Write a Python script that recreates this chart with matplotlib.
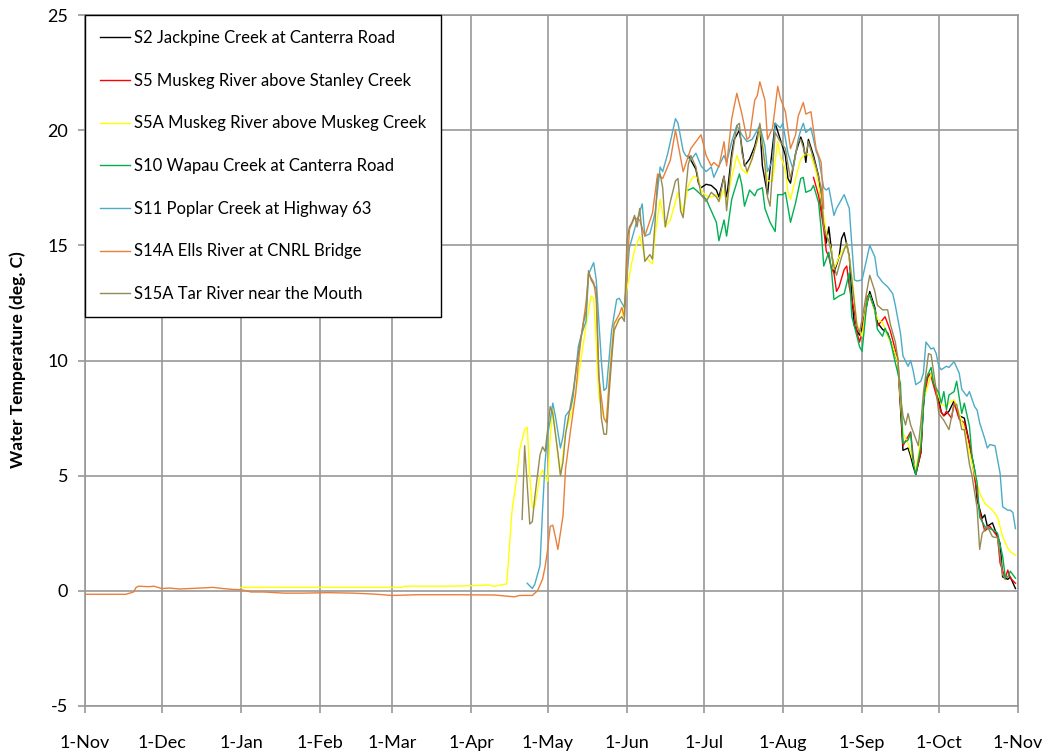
import matplotlib
matplotlib.use("Agg")
import matplotlib.pyplot as plt
import pandas as pd

plt.rcParams['font.family'] = ['Lato', 'DejaVu Sans']
plt.rcParams['axes.unicode_minus'] = False

# season runs 1-Nov to 1-Nov; days are counted from the first 1-Nov
season_start = pd.Timestamp('2010-11-01')

labels = ['S2 Jackpine Creek at Canterra Road',
          'S5 Muskeg River above Stanley Creek',
          'S5A Muskeg River above Muskeg Creek',
          'S10 Wapau Creek at Canterra Road',
          'S11 Poplar Creek at Highway 63',
          'S14A Ells River at CNRL Bridge',
          'S15A Tar River near the Mouth']
colors = ['#000000', '#FF0000', '#FFFF00', '#00B050', '#4BACC6', '#E8803C', '#948A54']

s2_day = [236, 238, 239, 240, 241, 243, 245, 247, 248, 250, 251, 253, 254, 256, 258,
          259, 260, 262, 264, 265, 267, 268, 270, 272, 274, 275, 276, 278, 280, 281,
          282, 283, 285, 287, 288, 289, 290, 291, 292, 293, 295, 296, 297, 299, 300,
          301, 303, 304, 306, 307, 309, 310, 312, 314, 316, 318, 319, 320, 322, 323,
          324, 325, 327, 328, 329, 331, 332, 334, 335, 336, 338, 340, 342, 344, 346,
          348, 349, 351, 352, 353, 355, 356, 358, 359, 361, 362, 364]
s2_temp = [18.9, 18.5, 18.3, 17.7, 17.5, 17.65, 17.6, 17.4, 17.1, 18.0, 17.0, 19.0, 19.6, 20.0, 18.45,
           18.6, 18.75, 19.3, 20.2, 18.45, 17.2, 18.3, 20.3, 19.6, 18.9, 17.9, 17.7, 19.0, 19.7, 19.4,
           18.6, 19.6, 18.9, 18.0, 16.85, 16.0, 15.1, 15.8, 14.8, 13.8, 14.5, 15.3, 15.55, 14.5, 12.8,
           11.5, 11.1, 11.4, 12.5, 13.0, 12.3, 11.65, 11.35, 11.2, 10.55, 9.9, 8.0, 6.1, 6.2, 5.85,
           5.4, 5.05, 6.0, 8.0, 9.2, 9.45, 9.0, 8.3, 7.75, 7.6, 7.8, 8.25, 7.6, 7.5, 6.4,
           5.25, 3.95, 3.15, 3.3, 2.8, 2.95, 2.65, 2.05, 0.6, 0.5, 0.6, 0.1]

s5_day = [285, 287, 289, 290, 291, 292, 293, 294, 295, 297, 298, 299, 301, 302, 303,
          304, 306, 307, 309, 310, 313, 315, 318, 320, 321, 323, 324, 325, 327, 328,
          330, 331, 333, 335, 336, 337, 339, 340, 342, 344, 346, 348, 350, 352, 354,
          356, 357, 358, 360, 361, 362, 364]
s5_temp = [17.95, 17.15, 15.7, 14.75, 14.5, 14.0, 13.8, 13.0, 13.2, 13.95, 14.1, 13.2, 12.1, 11.2, 10.8,
           11.2, 12.8, 12.8, 12.2, 11.5, 11.9, 11.3, 10.05, 6.3, 6.5, 6.9, 5.8, 5.05, 6.0, 8.2,
           9.45, 9.3, 8.5, 7.75, 7.6, 7.8, 7.5, 8.15, 7.45, 7.3, 6.4, 4.95, 3.45, 2.6, 2.8,
           2.5, 2.35, 1.2, 0.55, 0.9, 0.55, 0.33]

s5a_day = [61, 90, 124, 125, 140, 150, 158, 160, 165, 167, 169, 170, 172, 173, 174,
           175, 176, 178, 179, 181, 182, 183, 185, 186, 188, 191, 193, 195, 196, 198,
           199, 200, 201, 203, 204, 205, 206, 207, 210, 213, 214, 215, 217, 219, 221,
           222, 223, 225, 227, 229, 232, 234, 236, 238, 240, 241, 243, 245, 247, 248,
           250, 251, 253, 255, 257, 259, 261, 263, 264, 266, 267, 269, 271, 272, 274,
           275, 276, 278, 280, 282, 284, 286, 288, 290, 292, 293, 295, 298, 300, 302,
           304, 306, 307, 310, 312, 314, 316, 318, 320, 322, 323, 325, 327, 328, 330,
           331, 333, 335, 337, 338, 340, 342, 344, 346, 348, 350, 352, 355, 357, 359,
           361, 362, 364]
s5a_temp = [0.15, 0.15, 0.15, 0.2, 0.2, 0.22, 0.25, 0.2, 0.3, 3.4, 5.0, 6.1, 7.0, 7.1, 5.0,
            3.6, 3.7, 5.0, 5.25, 4.75, 6.7, 7.9, 5.85, 5.0, 6.85, 8.0, 9.3, 10.75, 11.5, 12.8,
            12.7, 10.75, 8.45, 7.5, 7.4, 9.0, 10.5, 11.6, 11.9, 13.7, 14.3, 14.8, 15.4, 14.5, 14.3,
            14.2, 15.4, 17.0, 15.8, 16.1, 17.3, 16.4, 17.6, 18.0, 17.9, 17.4, 17.15, 17.1, 17.2, 16.9,
            17.4, 16.9, 17.95, 18.9, 18.3, 18.1, 18.8, 19.5, 20.2, 18.6, 17.8, 17.8, 19.5, 18.9, 18.3,
            17.3, 17.0, 17.9, 18.75, 19.0, 18.9, 18.2, 17.0, 15.55, 14.8, 13.95, 14.5, 15.1, 13.7, 11.6,
            11.05, 12.65, 12.85, 11.8, 11.65, 11.05, 10.6, 9.9, 6.85, 6.4, 6.0, 5.25, 6.55, 8.3, 9.0,
            9.45, 8.75, 8.1, 8.0, 8.15, 8.3, 7.7, 7.0, 6.0, 5.1, 4.25, 3.8, 3.5, 3.2, 2.35,
            1.85, 1.7, 1.55]

s10_day = [236, 238, 239, 240, 243, 245, 247, 248, 250, 251, 253, 256, 257, 258, 260,
           262, 263, 265, 266, 268, 270, 271, 273, 274, 276, 278, 280, 281, 282, 284,
           285, 287, 288, 289, 291, 292, 293, 295, 297, 299, 300, 302, 303, 304, 306,
           307, 309, 310, 312, 313, 315, 317, 319, 320, 322, 323, 324, 325, 327, 328,
           329, 331, 332, 334, 335, 336, 337, 338, 340, 341, 343, 344, 346, 347, 349,
           350, 352, 353, 354, 356, 357, 359, 360, 361, 362, 364]
s10_temp = [17.4, 17.5, 17.4, 17.3, 17.0, 16.5, 16.0, 15.2, 16.1, 15.4, 17.0, 18.1, 17.6, 16.7, 17.4,
            17.15, 17.4, 17.5, 16.6, 16.0, 15.6, 17.2, 17.2, 17.3, 16.0, 16.85, 17.9, 17.95, 17.3, 17.4,
            17.6, 16.85, 15.7, 14.1, 14.7, 13.95, 12.65, 12.8, 12.9, 13.8, 11.9, 11.05, 10.6, 10.4, 12.65,
            12.85, 12.2, 11.35, 11.05, 11.4, 10.9, 9.9, 9.0, 6.4, 6.55, 6.85, 5.55, 5.05, 6.3, 8.0,
            9.2, 9.7, 9.0, 8.6, 8.15, 8.65, 7.85, 8.5, 8.65, 9.1, 7.7, 8.15, 7.15, 5.85, 4.7,
            3.2, 2.8, 2.7, 2.7, 2.6, 2.5, 1.5, 0.6, 0.6, 0.85, 0.55]

s11_day = [173, 175, 176, 178, 179, 180, 181, 182, 183, 184, 186, 187, 188, 190, 191,
           193, 194, 196, 197, 199, 200, 202, 203, 204, 206, 208, 209, 211, 213, 214,
           216, 218, 219, 221, 223, 225, 226, 228, 231, 232, 234, 235, 237, 239, 241,
           243, 245, 246, 248, 250, 251, 253, 255, 257, 259, 261, 262, 264, 266, 267,
           269, 270, 272, 273, 275, 277, 279, 280, 281, 282, 284, 286, 287, 289, 290,
           291, 293, 294, 296, 297, 299, 300, 301, 302, 304, 306, 307, 309, 310, 312,
           314, 316, 317, 319, 320, 322, 323, 324, 325, 327, 328, 329, 331, 332, 333,
           334, 335, 337, 338, 340, 342, 343, 345, 346, 348, 349, 350, 352, 353, 354,
           356, 357, 358, 359, 361, 362, 363, 364]
s11_temp = [0.33, 0.1, 0.3, 1.1, 3.5, 5.6, 6.8, 7.4, 8.15, 7.6, 6.2, 6.7, 7.6, 7.9, 8.45,
            10.6, 11.05, 11.7, 13.75, 14.25, 13.5, 10.0, 8.7, 8.8, 11.3, 12.65, 12.7, 12.3, 14.9, 15.3,
            16.1, 16.8, 15.4, 15.5, 16.4, 18.4, 18.2, 19.0, 20.5, 20.3, 19.1, 18.9, 18.7, 19.0, 18.45,
            18.2, 18.4, 17.95, 18.45, 18.9, 18.6, 19.5, 20.2, 19.8, 19.5, 19.6, 19.8, 20.2, 19.3, 18.2,
            18.7, 20.3, 20.1, 20.3, 19.0, 18.3, 19.6, 20.0, 20.3, 19.9, 20.1, 19.1, 18.8, 17.5, 17.4,
            17.5, 16.3, 16.6, 17.0, 17.2, 16.6, 15.0, 13.5, 13.45, 13.5, 14.5, 15.0, 14.5, 13.7, 13.4,
            13.2, 12.9, 12.4, 11.2, 10.2, 9.75, 10.0, 9.55, 8.95, 9.1, 9.45, 10.8, 10.5, 10.55, 10.3,
            9.75, 9.6, 9.75, 9.7, 9.95, 9.45, 8.75, 8.45, 8.65, 8.0, 7.85, 7.3, 6.6, 6.2, 6.35,
            6.3, 5.7, 5.1, 3.65, 3.5, 3.5, 3.4, 2.7]

s14a_day = [0, 16, 19, 20, 21, 25, 27, 30, 33, 37, 41, 45, 50, 54, 58,
            61, 65, 70, 78, 85, 95, 105, 113, 120, 130, 145, 160, 168, 170, 175,
            177, 179, 180, 181, 182, 183, 184, 185, 187, 188, 190, 192, 193, 194, 196,
            197, 199, 200, 201, 203, 204, 205, 207, 209, 210, 211, 213, 215, 217, 219,
            222, 224, 226, 229, 231, 234, 237, 239, 241, 243, 245, 246, 248, 250, 251,
            253, 255, 257, 259, 260, 262, 263, 264, 266, 267, 269, 271, 272, 274, 276,
            278, 279, 281, 282, 284, 285, 286, 288, 289]
s14a_temp = [-0.15, -0.15, -0.05, 0.15, 0.2, 0.18, 0.2, 0.1, 0.12, 0.08, 0.1, 0.12, 0.15, 0.1, 0.06,
             0.05, -0.05, -0.05, -0.1, -0.1, -0.08, -0.1, -0.14, -0.2, -0.17, -0.17, -0.18, -0.26, -0.2, -0.2,
             0.0, 0.5, 1.05, 1.8, 2.8, 2.85, 2.35, 1.8, 3.25, 5.3, 7.0, 8.6, 9.9, 10.9, 12.5,
             13.75, 13.4, 12.65, 9.3, 7.5, 7.3, 9.0, 11.6, 12.0, 12.3, 11.9, 15.7, 16.2, 16.1, 15.4,
             16.4, 18.1, 17.9, 18.7, 20.0, 18.2, 19.2, 19.5, 19.8, 18.9, 18.45, 18.6, 18.4, 19.5, 18.45,
             20.5, 21.6, 20.7, 19.6, 19.7, 21.3, 21.5, 22.1, 21.3, 19.6, 20.1, 21.9, 21.4, 20.8, 19.2,
             19.8, 20.6, 21.2, 20.7, 20.8, 20.0, 19.2, 18.6, 16.6]

s15a_day = [171, 172, 174, 175, 176, 178, 179, 180, 181, 182, 183, 185, 186, 187, 188,
            190, 191, 193, 195, 196, 197, 198, 199, 200, 201, 202, 203, 204, 205, 206,
            207, 209, 210, 211, 212, 213, 214, 215, 216, 217, 219, 221, 222, 223, 224,
            225, 226, 227, 229, 231, 232, 233, 234, 236, 237, 239, 241, 243, 245, 247,
            248, 250, 251, 253, 255, 256, 257, 258, 259, 261, 263, 264, 266, 267, 268,
            270, 272, 274, 275, 276, 279, 280, 282, 283, 286, 288, 289, 290, 291, 293,
            294, 296, 298, 299, 301, 302, 303, 304, 306, 307, 309, 310, 312, 314, 315,
            317, 318, 319, 320, 321, 322, 323, 325, 326, 327, 328, 330, 331, 332, 333,
            334, 336, 338, 340, 341, 343, 344, 346, 347, 349, 350, 351, 353, 355, 357,
            359, 360]
s15a_temp = [3.1, 6.3, 2.9, 3.0, 4.1, 5.9, 6.25, 6.05, 7.0, 8.0, 7.7, 6.0, 5.0, 5.6, 6.8,
             8.1, 8.7, 10.3, 11.65, 12.1, 13.9, 13.5, 13.3, 13.1, 9.5, 7.5, 6.8, 6.8, 8.5, 10.0,
             11.3, 11.8, 11.9, 11.7, 15.2, 15.8, 16.0, 16.3, 15.8, 16.6, 14.3, 14.6, 14.4, 16.0, 17.9,
             18.1, 17.5, 15.8, 16.9, 17.8, 17.9, 16.5, 16.2, 18.5, 18.9, 18.4, 17.2, 16.9, 17.3, 17.1,
             16.9, 18.0, 16.5, 18.75, 20.2, 20.3, 19.0, 18.6, 18.2, 18.75, 19.6, 20.3, 18.5, 17.1, 16.7,
             19.9, 19.5, 19.2, 18.5, 17.9, 19.5, 19.6, 18.9, 19.5, 18.4, 17.5, 15.8, 15.4, 15.2, 14.1,
             13.7, 14.5, 15.1, 14.5, 12.5, 11.5, 11.2, 11.8, 13.1, 13.7, 13.0, 12.4, 12.2, 12.2, 11.6,
             10.8, 10.1, 8.5, 7.6, 7.2, 7.7, 7.2, 6.6, 6.3, 7.3, 8.6, 10.3, 10.25, 9.5, 8.7,
             7.7, 7.4, 7.0, 8.1, 8.1, 7.0, 7.0, 5.5, 5.0, 3.6, 1.8, 2.5, 2.8, 2.35, 2.3,
             0.7, 0.5]

all_days = [s2_day, s5_day, s5a_day, s10_day, s11_day, s14a_day, s15a_day]
all_temps = [s2_temp, s5_temp, s5a_temp, s10_temp, s11_temp, s14a_temp, s15a_temp]

grid_col = '#989898'

fig = plt.figure(figsize=(10.52, 7.54), dpi=100)
ax = fig.add_axes([85 / 1052, 48 / 754, 933 / 1052, 691 / 754])

for days, temps, lab, col in zip(all_days, all_temps, labels, colors):
    dates = season_start + pd.to_timedelta(days, unit='D')
    ax.plot(dates, temps, color=col, lw=1.0, label=lab)

season_end = season_start + pd.Timedelta(days=365)
ax.set_xlim(season_start, season_end)
ax.set_ylim(-5, 25)
ax.set_yticks(range(-5, 26, 5))

months = pd.date_range(season_start, season_end, freq='MS')
ax.set_xticks(months)
ax.set_xticklabels(['1-' + m.strftime('%b') for m in months])

ax.grid(True, color=grid_col, lw=1.2)
ax.set_axisbelow(True)
for sp in ax.spines.values():
    sp.set_color(grid_col)
    sp.set_linewidth(1.2)
ax.tick_params(axis='both', direction='out', length=5, width=1.2, color=grid_col, labelsize=13)
ax.tick_params(axis='x', pad=16)
ax.tick_params(axis='y', pad=7)

fig.text(18 / 1052, 1 - 360 / 754, 'Water Temperature (deg. C)', rotation=90,
         ha='center', va='center', fontsize=12.5, fontweight='bold')

leg = ax.legend(loc='upper left', bbox_to_anchor=(0, 1), borderaxespad=0,
                fontsize=12, labelspacing=1.6, handlelength=1.8, handletextpad=0.25,
                borderpad=0.9, fancybox=False, framealpha=1, edgecolor='black')
leg.get_frame().set_linewidth(1.0)

fig.savefig('out.png', dpi=100)
